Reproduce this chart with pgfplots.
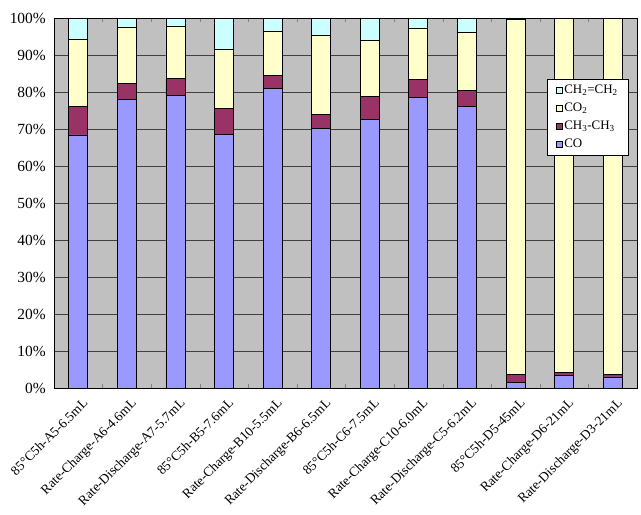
\documentclass[border=0pt]{standalone}
\usepackage{fontspec}
\setmainfont{Liberation Serif}
\usepackage{pgfplots}
\pgfplotsset{compat=1.18}
\definecolor{cCO}{HTML}{9999FF}
\definecolor{cCH3}{HTML}{993366}
\definecolor{cCO2}{HTML}{FFFFCC}
\definecolor{cCH2}{HTML}{CCFFFF}
\definecolor{bg}{HTML}{C0C0C0}
\begin{document}
\begin{tikzpicture}
\useasboundingbox (-54bp,-127bp) rectangle (587bp,388bp);
\begin{axis}[
  scale only axis,
  width=583bp, height=370bp,
  ybar stacked,
  bar width=19bp,
  xmin=-0.5, xmax=11.5,
  ymin=0, ymax=100,
  axis background/.style={fill=bg},
  xtick={0,...,11},
  xticklabels={85°C5h-A5-6.5mL,Rate-Charge-A6-4.6mL,Rate-Discharge-A7-5.7mL,85°C5h-B5-7.6mL,Rate-Charge-B10-5.5mL,Rate-Discharge-B6-6.5mL,85°C5h-C6-7.5mL,Rate-Charge-C10-6.0mL,Rate-Discharge-C5-6.2mL,85°C5h-D5-45mL,Rate-Charge-D6-21mL,Rate-Discharge-D3-21mL},
  x tick label style={rotate=45, anchor=north east, font=\fontsize{13.5}{15}\selectfont, inner sep=1pt, xshift=-3bp, yshift=-8bp},
  minor xtick={0.5,1.5,...,10.5},
  major tick length=0pt,
  minor tick length=4bp,
  tick align=inside,
  ytick={0,10,...,100},
  yticklabel={\pgfmathprintnumber{\tick}\%},
  y tick label style={font=\fontsize{15.5}{17}\selectfont, inner sep=1pt, xshift=-7bp},
  /pgf/number format/assume math mode=true,
  ymajorgrids,
  major grid style={black!75, line width=0.6pt},
  axis line style={black, line width=0.6pt},
  every axis plot/.append style={draw=black, line width=0.8pt},
  legend style={at={(0.986,0.835)}, anchor=north east, draw=black, fill=white, font=\fontsize{13}{15}\selectfont, row sep=4pt, inner xsep=9bp, inner ysep=4bp, cells={anchor=west}},
  legend image code/.code={\draw[#1, line width=0.5pt] (0bp,-3bp) rectangle (6bp,3bp);},
  reverse legend,
]
\addplot[fill=cCO] coordinates {(0,68.4) (1,78.0) (2,79.0) (3,68.6) (4,81.0) (5,70.1) (6,72.7) (7,78.5) (8,76.0) (9,1.4) (10,3.3) (11,3.0)};
\addplot[fill=cCH3] coordinates {(0,7.6) (1,4.3) (2,4.7) (3,7.0) (4,3.5) (5,3.8) (6,6.0) (7,4.9) (8,4.4) (9,2.3) (10,0.8) (11,0.6)};
\addplot[fill=cCO2] coordinates {(0,18.2) (1,15.2) (2,14.0) (3,16.0) (4,11.8) (5,21.3) (6,15.2) (7,13.9) (8,15.7) (9,96.0) (10,95.9) (11,96.4)};
\addplot[fill=cCH2] coordinates {(0,5.8) (1,2.5) (2,2.3) (3,8.4) (4,3.7) (5,4.8) (6,6.1) (7,2.7) (8,3.9) (9,0.3) (10,0.0) (11,0.0)};
\legend{CO,CH\textsubscript{3}-CH\textsubscript{3},CO\textsubscript{2},CH\textsubscript{2}=CH\textsubscript{2}}
\end{axis}
\end{tikzpicture}
\end{document}
